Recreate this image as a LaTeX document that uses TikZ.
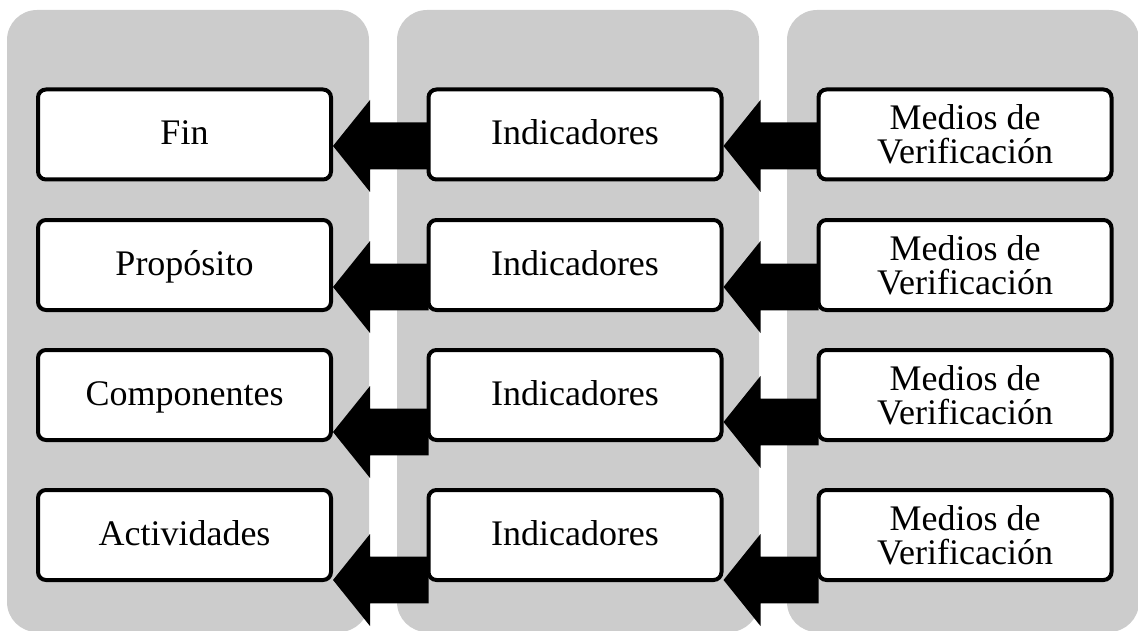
\documentclass[tikz,border=0pt]{standalone}
\usepackage{fontspec}
\setmainfont{Liberation Serif}
\usetikzlibrary{calc}
\tikzset{% 
  columna/.style = {fill=black!20, draw=none, rounded corners=22.5pt},
  caja/.style = {shape=rectangle, rounded corners=6pt,
      draw, line width=3pt, fill=white, align=center,
      minimum width=219.75pt, minimum height=67.5pt,
      font=\fontsize{27}{25.5}\selectfont},
  linea/.style = {caja, text height=17.5pt, text depth=2pt}
}
\newcommand{\flecha}[3]{%
  \fill let \p1=(#1.west), \p2=(#2.east) in
    (\x2,\y1-#3)
    -- (\x2+27.75pt,\y1-#3+34.5pt)
    -- (\x2+27.75pt,\y1-#3+17.6pt)
    -- (\x1+1.5pt,\y1-#3+17.6pt)
    -- (\x1+1.5pt,\y1-#3-17.6pt)
    -- (\x2+27.75pt,\y1-#3-17.6pt)
    -- (\x2+27.75pt,\y1-#3-34.5pt)
    -- cycle;
}

\begin{document}
\begin{tikzpicture}[x=0.75pt,y=-0.75pt]
\useasboundingbox (0,0) rectangle (1138,631);
\fill[columna] (7,10) rectangle (369,632);
\fill[columna] (397,10) rectangle (759,632);
\fill[columna] (787,10) rectangle (1139,632);

\node[linea] (fin) at (184.5,134.5) {Fin};
\node[linea] (proposito) at (184.5,265) {Propósito};
\node[linea] (componentes) at (184.5,395) {Componentes};
\node[linea] (actividades) at (184.5,535) {Actividades};

\node[linea] (ind1) at (575,134.5) {Indicadores};
\node[linea] (ind2) at (575,265) {Indicadores};
\node[linea] (ind3) at (575,395) {Indicadores};
\node[linea] (ind4) at (575,535) {Indicadores};

\node[caja] (med1) at (965,134.5) {Medios de\\Verificación};
\node[caja] (med2) at (965,265) {Medios de\\Verificación};
\node[caja] (med3) at (965,395) {Medios de\\Verificación};
\node[caja] (med4) at (965,535) {Medios de\\Verificación};

\flecha{ind1}{fin}{8.6pt}
\flecha{ind2}{proposito}{16.5pt}
\flecha{ind3}{componentes}{27.75pt}
\flecha{ind4}{actividades}{33.75pt}

\flecha{med1}{ind1}{8.6pt}
\flecha{med2}{ind2}{16.5pt}
\flecha{med3}{ind3}{20.25pt}
\flecha{med4}{ind4}{33.75pt}
\end{tikzpicture}
\end{document}
